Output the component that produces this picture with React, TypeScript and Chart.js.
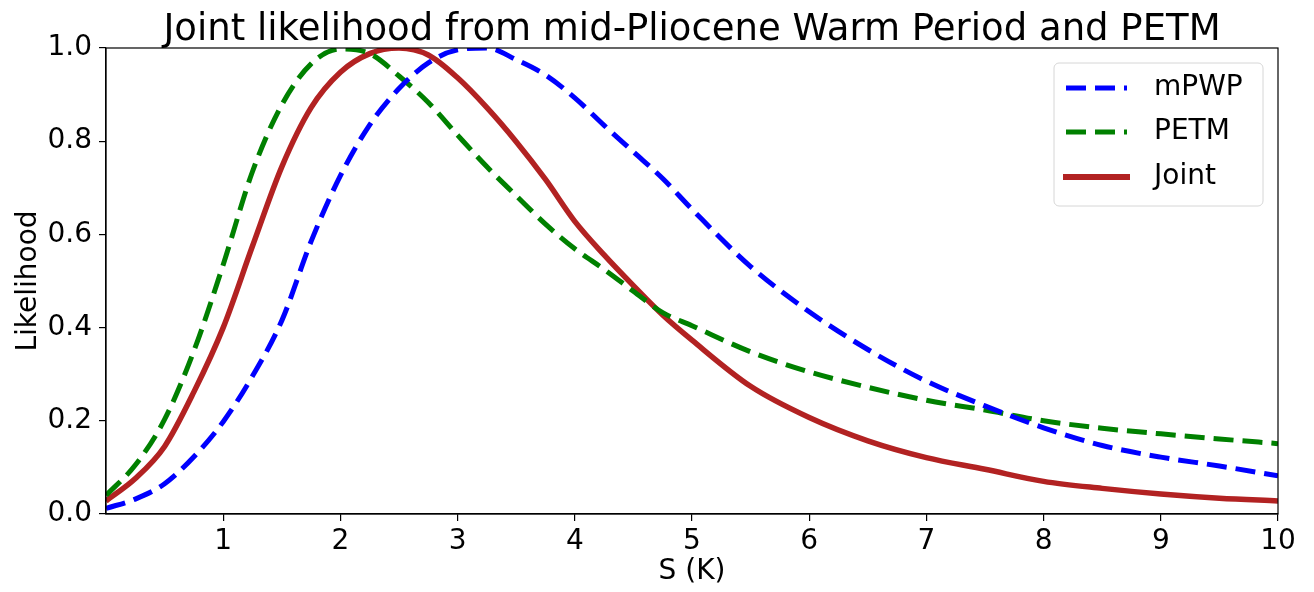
import React, { useEffect, useRef } from "react";
import { Chart, registerables } from "chart.js";

Chart.register(...registerables);

const sValues = [0, 0.25, 0.5, 0.75, 1.0, 1.25, 1.5, 1.75, 2.0, 2.25, 2.5, 2.75, 3.0, 3.25, 3.5, 3.75, 4.0, 4.25, 4.5, 4.75, 5.0, 5.5, 6.0, 6.5, 7.0, 7.5, 8.0, 8.5, 9.0, 9.5, 10.0];
const mpwpValues = [0.012, 0.032, 0.065, 0.123, 0.198, 0.296, 0.415, 0.585, 0.726, 0.835, 0.913, 0.968, 0.996, 1.0, 0.975, 0.942, 0.893, 0.834, 0.777, 0.72, 0.654, 0.531, 0.434, 0.353, 0.285, 0.232, 0.185, 0.147, 0.122, 0.103, 0.082];
const petmValues = [0.04, 0.105, 0.203, 0.35, 0.535, 0.735, 0.878, 0.966, 0.998, 0.988, 0.94, 0.883, 0.813, 0.745, 0.683, 0.622, 0.569, 0.525, 0.478, 0.432, 0.404, 0.348, 0.305, 0.272, 0.244, 0.223, 0.2, 0.184, 0.172, 0.161, 0.151];
const jointValues = [0.028, 0.076, 0.145, 0.262, 0.4, 0.575, 0.745, 0.872, 0.948, 0.988, 1.0, 0.985, 0.936, 0.872, 0.799, 0.718, 0.628, 0.556, 0.49, 0.427, 0.373, 0.274, 0.207, 0.157, 0.121, 0.096, 0.07, 0.055, 0.043, 0.034, 0.028];
const xTicks = [1, 2, 3, 4, 5, 6, 7, 8, 9, 10];
const yTicks = [0, 0.2, 0.4, 0.6, 0.8, 1.0];

const seriesNames = ["mPWP", "PETM", "Joint"];
const seriesColors = ["#0000ff", "#008000", "#b22222"];
const titleText = "Joint likelihood from mid-Pliocene Warm Period and PETM";

const FONT = "'DejaVu Sans', sans-serif";
const DASH = [20, 9];

const toPoints = (ys: number[]) => sValues.map((x, i) => ({ x, y: ys[i] }));

const framePlugin = {
  id: "frameAndLegend",
  afterDraw(chart: any) {
    const { ctx, chartArea } = chart;
    const { left, right, top, bottom } = chartArea;
    ctx.save();
    // spines
    ctx.strokeStyle = "#000";
    ctx.lineWidth = 1.2;
    ctx.strokeRect(left, top, right - left, bottom - top);
    // title
    ctx.fillStyle = "#000";
    ctx.font = `37px ${FONT}`;
    ctx.textAlign = "center";
    ctx.textBaseline = "alphabetic";
    ctx.fillText(titleText, (left + right) / 2, 40);
    // legend
    const bx = 1054, by = 63, bw = 209, bh = 143, r = 5;
    ctx.beginPath();
    ctx.moveTo(bx + r, by);
    ctx.lineTo(bx + bw - r, by);
    ctx.arcTo(bx + bw, by, bx + bw, by + r, r);
    ctx.lineTo(bx + bw, by + bh - r);
    ctx.arcTo(bx + bw, by + bh, bx + bw - r, by + bh, r);
    ctx.lineTo(bx + r, by + bh);
    ctx.arcTo(bx, by + bh, bx, by + bh - r, r);
    ctx.lineTo(bx, by + r);
    ctx.arcTo(bx, by, bx + r, by, r);
    ctx.closePath();
    ctx.fillStyle = "rgba(255,255,255,0.8)";
    ctx.fill();
    ctx.strokeStyle = "#d6d6d6";
    ctx.lineWidth = 1;
    ctx.stroke();
    const rows = [88, 132, 177];
    ctx.font = `28px ${FONT}`;
    ctx.textAlign = "left";
    ctx.textBaseline = "middle";
    rows.forEach((y, i) => {
      ctx.beginPath();
      ctx.strokeStyle = seriesColors[i];
      if (i < 2) {
        ctx.lineWidth = 5;
        ctx.setLineDash(DASH);
        ctx.lineCap = "butt";
      } else {
        ctx.lineWidth = 6;
        ctx.setLineDash([]);
        ctx.lineCap = "square";
      }
      ctx.moveTo(1066, y);
      ctx.lineTo(1127, y);
      ctx.stroke();
      ctx.setLineDash([]);
      ctx.fillStyle = "#000";
      ctx.fillText(seriesNames[i], 1154, y);
    });
    ctx.restore();
  },
};

export default function App() {
  const ref = useRef<HTMLCanvasElement | null>(null);
  useEffect(() => {
    document.body.style.margin = "0";
    const canvas = ref.current!;
    const chart = new Chart(canvas, {
      type: "line",
      data: {
        datasets: [
          { label: seriesNames[0], data: toPoints(mpwpValues), borderColor: seriesColors[0], borderWidth: 5, borderDash: DASH, pointRadius: 0, cubicInterpolationMode: "monotone", fill: false },
          { label: seriesNames[1], data: toPoints(petmValues), borderColor: seriesColors[1], borderWidth: 5, borderDash: DASH, pointRadius: 0, cubicInterpolationMode: "monotone", fill: false },
          { label: seriesNames[2], data: toPoints(jointValues), borderColor: seriesColors[2], borderWidth: 5.5, pointRadius: 0, cubicInterpolationMode: "monotone", fill: false },
        ],
      },
      options: {
        animation: false,
        responsive: false,
        devicePixelRatio: 1,
        layout: { padding: { top: 48, right: 36, left: 0, bottom: 0 } },
        plugins: { legend: { display: false }, tooltip: { enabled: false }, title: { display: false } },
        scales: {
          x: {
            type: "linear",
            min: 0,
            max: 10,
            afterFit: (s: any) => { s.height = 78; },
            afterBuildTicks: (s: any) => { s.ticks = xTicks.map((v) => ({ value: v })); },
            ticks: { color: "#000", font: { family: FONT, size: 28 }, padding: 4, maxRotation: 0, autoSkip: false, callback: (v: any) => String(v) },
            grid: { drawOnChartArea: false, drawTicks: true, tickLength: 7, color: "#000", lineWidth: 1.2 },
            border: { display: true, color: "#000", width: 1.2 },
            title: { display: true, text: "S (K)", color: "#000", font: { family: FONT, size: 28 }, padding: { top: 0, bottom: 3 } },
          },
          y: {
            type: "linear",
            min: 0,
            max: 1,
            afterFit: (s: any) => { s.width = 106; },
            afterBuildTicks: (s: any) => { s.ticks = yTicks.map((v) => ({ value: v })); },
            ticks: { color: "#000", font: { family: FONT, size: 28 }, padding: 7, autoSkip: false, callback: (v: any) => Number(v).toFixed(1) },
            grid: { drawOnChartArea: false, drawTicks: true, tickLength: 7, color: "#000", lineWidth: 1.2 },
            border: { display: true, color: "#000", width: 1.2 },
            title: { display: true, text: "Likelihood", color: "#000", font: { family: FONT, size: 28 }, padding: { top: 12, bottom: 0 } },
          },
        },
      },
      plugins: [framePlugin],
    });
    return () => chart.destroy();
  }, []);
  return (
    <div style={{ width: 1314, height: 592 }}>
      <canvas ref={ref} width={1314} height={592} style={{ width: 1314, height: 592, display: "block" }} />
    </div>
  );
}
